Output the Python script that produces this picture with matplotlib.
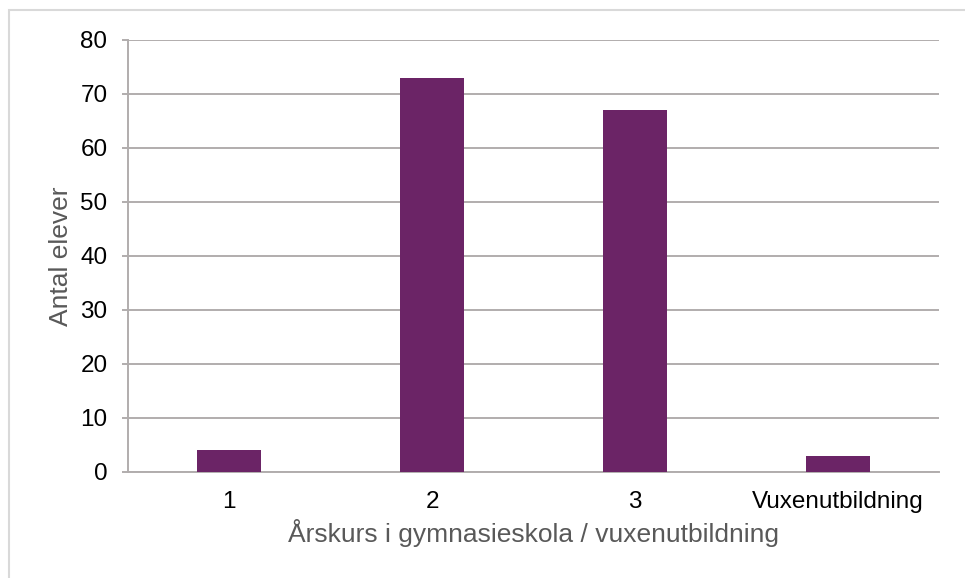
import matplotlib.pyplot as plt
from matplotlib.patches import Rectangle

# data
categories = ["1", "2", "3", "Vuxenutbildning"]
antal_elever = [4, 73, 67, 3]
y_ticks = [0, 10, 20, 30, 40, 50, 60, 70, 80]

bar_color = "#6B2466"
grid_color = "#B1ADAD"
label_color = "#595959"

plt.rcParams['font.family'] = ['Liberation Sans', 'DejaVu Sans']

W, H = 965, 578
fig = plt.figure(figsize=(W / 100, H / 100), dpi=100)
ax = fig.add_axes([128 / W, 1 - 472 / H, (939 - 128) / W, (472 - 40) / H])

# light frame around the whole chart (runs off the right and bottom edges)
fig.patches.append(Rectangle((9 / W, -0.1), 1.2, 1.1 - 10 / H, transform=fig.transFigure,
                             fill=False, edgecolor="#D9D9D9", linewidth=1.5))

x = range(len(categories))
ax.bar(x, antal_elever, width=0.316, color=bar_color, zorder=3)

ax.set_xlim(-0.5, len(categories) - 0.5)
ax.set_ylim(0, 80)
ax.set_yticks(y_ticks)
ax.set_xticks(list(x))
ax.set_xticklabels(categories)

ax.grid(axis='y', color=grid_color, linewidth=1.4, zorder=0)
for side in ['top', 'right']:
    ax.spines[side].set_visible(False)
ax.spines['left'].set_color(grid_color)
ax.spines['left'].set_linewidth(1.4)
ax.spines['bottom'].set_color(grid_color)
ax.spines['bottom'].set_linewidth(1.4)

ax.tick_params(axis='y', length=4.3, width=1.4, color=grid_color, pad=10.5,
               labelsize=17.5, labelcolor='black')
ax.tick_params(axis='x', length=0, pad=14, labelsize=17.5, labelcolor='black')

ax.set_xlabel("Årskurs i gymnasieskola / vuxenutbildning", fontsize=19,
              color=label_color, labelpad=4)
ax.set_ylabel("Antal elever", fontsize=19, color=label_color, labelpad=5)

fig.savefig("out.png", dpi=100)
